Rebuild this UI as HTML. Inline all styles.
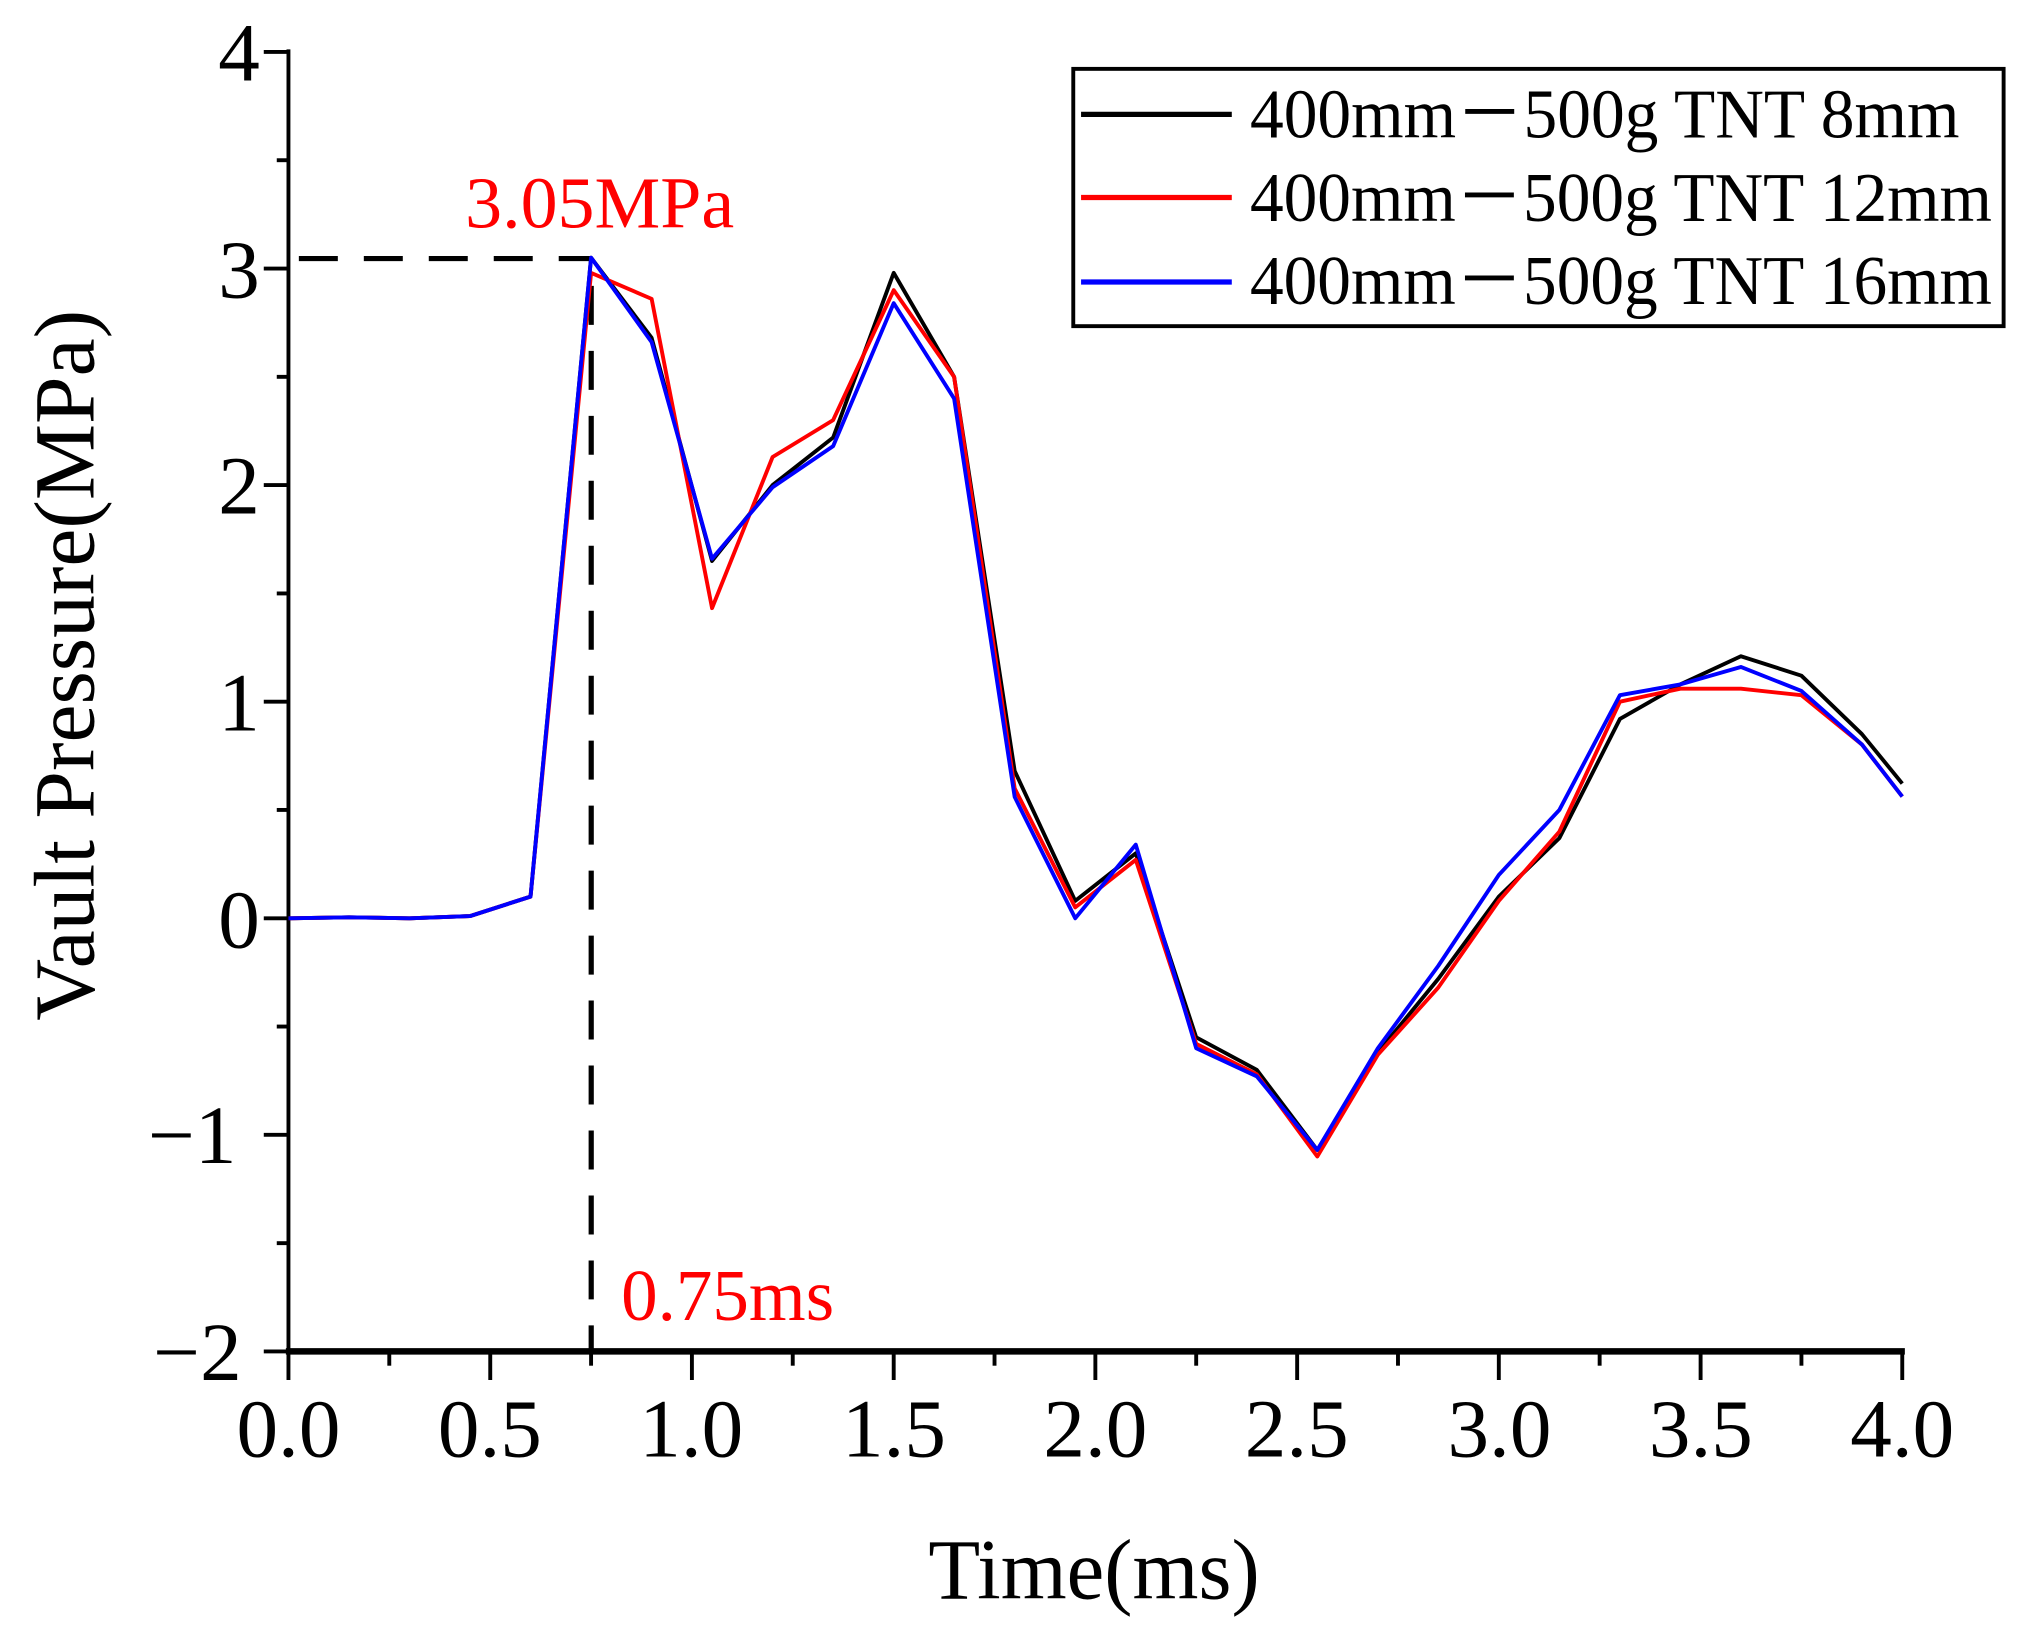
<!DOCTYPE html>
<html><head><meta charset="utf-8"><style>html,body{margin:0;padding:0;background:#fff}svg{display:block}</style></head><body>
<svg width="2027" height="1630" viewBox="0 0 1560 1254.4" preserveAspectRatio="none" xmlns="http://www.w3.org/2000/svg" font-family="'Liberation Serif',serif">
<g stroke="#000" stroke-width="3">
<line x1="222" y1="38" x2="222" y2="1040"/>
<line x1="220" y1="1040" x2="1466" y2="1040" stroke-width="5"/>
<line x1="203" y1="40" x2="222" y2="40"/><line x1="203" y1="206.7" x2="222" y2="206.7"/><line x1="203" y1="373.3" x2="222" y2="373.3"/><line x1="203" y1="540" x2="222" y2="540"/><line x1="203" y1="706.7" x2="222" y2="706.7"/><line x1="203" y1="873.3" x2="222" y2="873.3"/><line x1="203" y1="1040" x2="222" y2="1040"/>
<line x1="213" y1="123.3" x2="222" y2="123.3"/><line x1="213" y1="290" x2="222" y2="290"/><line x1="213" y1="456.7" x2="222" y2="456.7"/><line x1="213" y1="623.3" x2="222" y2="623.3"/><line x1="213" y1="790" x2="222" y2="790"/><line x1="213" y1="956.7" x2="222" y2="956.7"/>
<line x1="222" y1="1040" x2="222" y2="1062"/><line x1="377.3" y1="1040" x2="377.3" y2="1062"/><line x1="532.5" y1="1040" x2="532.5" y2="1062"/><line x1="687.8" y1="1040" x2="687.8" y2="1062"/><line x1="843" y1="1040" x2="843" y2="1062"/><line x1="998.3" y1="1040" x2="998.3" y2="1062"/><line x1="1153.5" y1="1040" x2="1153.5" y2="1062"/><line x1="1308.8" y1="1040" x2="1308.8" y2="1062"/><line x1="1464" y1="1040" x2="1464" y2="1062"/>
<line x1="299.6" y1="1040" x2="299.6" y2="1051"/><line x1="454.9" y1="1040" x2="454.9" y2="1051"/><line x1="610.1" y1="1040" x2="610.1" y2="1051"/><line x1="765.4" y1="1040" x2="765.4" y2="1051"/><line x1="920.6" y1="1040" x2="920.6" y2="1051"/><line x1="1075.9" y1="1040" x2="1075.9" y2="1051"/><line x1="1231.1" y1="1040" x2="1231.1" y2="1051"/><line x1="1386.4" y1="1040" x2="1386.4" y2="1051"/>
</g>
<g font-size="64" text-anchor="end" fill="#000">
<text x="200" y="62">4</text><text x="200" y="229">3</text><text x="200" y="395">2</text><text x="200" y="562">1</text><text x="200" y="729">0</text><text x="182" y="895">−1</text><text x="186" y="1062">−2</text>
</g>
<g font-size="64" text-anchor="middle" fill="#000">
<text x="222" y="1121">0.0</text><text x="377" y="1121">0.5</text><text x="532" y="1121">1.0</text><text x="688" y="1121">1.5</text><text x="843" y="1121">2.0</text><text x="998" y="1121">2.5</text><text x="1154" y="1121">3.0</text><text x="1309" y="1121">3.5</text><text x="1464" y="1121">4.0</text>
</g>
<text x="842" y="1230" font-size="66" text-anchor="middle" textLength="255" lengthAdjust="spacingAndGlyphs">Time(ms)</text>
<text transform="translate(72,512) rotate(-90)" font-size="66" text-anchor="middle" textLength="547" lengthAdjust="spacingAndGlyphs">Vault Pressure(MPa)</text>
<g stroke="#000" stroke-width="4" stroke-dasharray="30,20" fill="none">
<line x1="230" y1="199" x2="455" y2="199"/>
<line x1="455" y1="220" x2="455" y2="1040"/>
</g>
<text x="358" y="175" font-size="56" fill="#f00" textLength="207" lengthAdjust="spacingAndGlyphs">3.05MPa</text>
<text x="478" y="1016" font-size="56" fill="#f00" textLength="164" lengthAdjust="spacingAndGlyphs">0.75ms</text>
<g fill="none" stroke-width="3" stroke-linejoin="round">
<polyline stroke="#000" points="222,706.7 268.6,705.9 315.2,706.7 361.7,705 408.3,690 454.9,198.3 501.5,260 548,431.7 594.6,373.3 641.2,336.7 687.8,210 734.3,290 780.9,593.3 827.5,693.3 874.1,656.7 920.6,798.3 967.2,823.3 1013.8,885 1060.4,810 1106.9,753.3 1153.5,690 1200.1,645 1246.7,553.3 1293.2,526.7 1339.8,505 1386.4,520 1433,565 1464,603"/>
<polyline stroke="#f00" points="222,706.7 268.6,705.9 315.2,706.7 361.7,705 408.3,690 454.9,210 501.5,230 548,468 594.6,351.7 641.2,323.3 687.8,223.3 734.3,290 780.9,606.7 827.5,698.3 874.1,661.7 920.6,803.3 967.2,826.7 1013.8,890 1060.4,811.7 1106.9,760 1153.5,693.3 1200.1,640 1246.7,540 1293.2,530 1339.8,530 1386.4,535 1433,573 1464,613"/>
<polyline stroke="#00f" points="222,706.7 268.6,705.9 315.2,706.7 361.7,705 408.3,690 454.9,198.3 501.5,263.3 548,430 594.6,375 641.2,343.3 687.8,233.3 734.3,306.7 780.9,613.3 827.5,706.7 874.1,650 920.6,806.7 967.2,828.3 1013.8,885 1060.4,806.7 1106.9,743.3 1153.5,673.3 1200.1,623.3 1246.7,535 1293.2,526.7 1339.8,513.3 1386.4,531.7 1433,573 1464,613"/>
</g>
<rect x="826" y="53" width="716" height="198" fill="none" stroke="#000" stroke-width="3"/>
<line x1="832" y1="88" x2="948" y2="88" stroke="#000" stroke-width="4"/>
<line x1="832" y1="152" x2="948" y2="152" stroke="#f00" stroke-width="4"/>
<line x1="832" y1="217" x2="948" y2="217" stroke="#00f" stroke-width="4"/>
<g font-size="54" fill="#000">
<text x="962" y="106" textLength="546" lengthAdjust="spacingAndGlyphs">400mm－500g TNT 8mm</text>
<text x="962" y="170" textLength="571" lengthAdjust="spacingAndGlyphs">400mm－500g TNT 12mm</text>
<text x="962" y="234" textLength="571" lengthAdjust="spacingAndGlyphs">400mm－500g TNT 16mm</text>
</g>
</svg>
</body></html>
